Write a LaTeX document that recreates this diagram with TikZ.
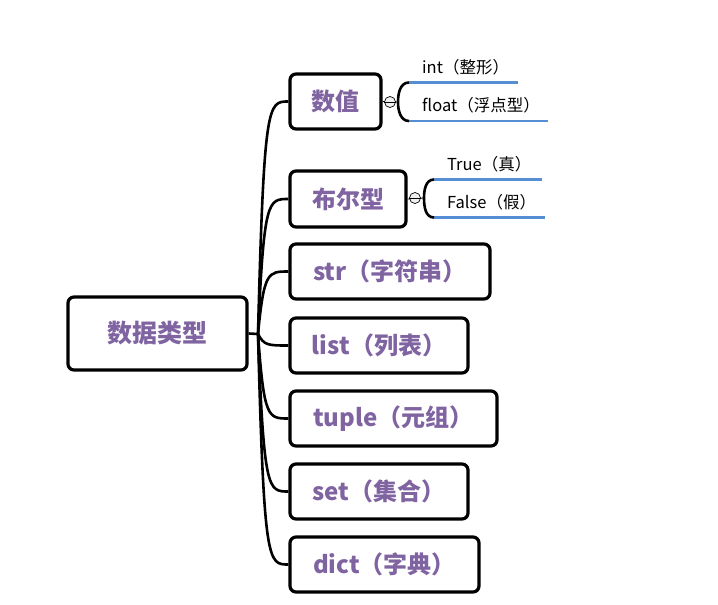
\documentclass[tikz,border=0pt]{standalone}
\usepackage{fontspec}
\newfontfamily\cjk{Noto Sans CJK SC}
\definecolor{txtpurple}{HTML}{8064A2}
\definecolor{lineblue}{HTML}{558ED5}
\begin{document}
\begin{tikzpicture}[x=1pt,y=-1pt,
  box/.style={draw=black,line width=3.2pt,rounded corners=6pt,fill=white,
    font=\cjk\bfseries\fontsize{24}{28}\selectfont,text=txtpurple,inner sep=0pt},
  conn/.style={line width=2.6pt,black},
  leaf/.style={font=\cjk\fontsize{16.5}{19}\selectfont,anchor=west,inner sep=0pt},
  bline/.style={line width=2.6pt,lineblue},
  knob/.style={circle,draw=black,line width=0.7pt,fill=gray!12,minimum size=11pt,inner sep=0pt}]
\useasboundingbox (0,0) rectangle (718,605);
% root
\node[box,minimum width=179pt,minimum height=73pt,font=\cjk\bfseries\fontsize{25}{29}\selectfont] (root) at (157.5,333.5) {数据类型};
% children
\node[box,minimum width=91pt,minimum height=55pt] (c1) at (335.5,101.5) {数值};
\node[box,minimum width=116pt,minimum height=56pt] (c2) at (348,199) {布尔型};
\node[box,minimum width=200pt,minimum height=55pt] (c3) at (390,271.5) {str（字符串）};
\node[box,minimum width=178pt,minimum height=55pt] (c4) at (379,345.5) {list（列表）};
\node[box,minimum width=207pt,minimum height=55pt] (c5) at (393.5,418.5) {tuple（元组）};
\node[box,minimum width=178pt,minimum height=55pt] (c6) at (379,491.5) {set（集合）};
\node[box,minimum width=189pt,minimum height=55pt] (c7) at (384.5,564.5) {dict（字典）};
% trunk
\coordinate (j) at (258,334);
\draw[conn] (root.east) -- (j);
\foreach \c/\y in {c1/101.5,c2/199,c3/271.5,c4/345.5,c5/418.5,c6/491.5,c7/564.5}{
  \draw[conn] (j) .. controls (264,\y) and (268,\y) .. (\c.west);
}
% 数值 subtopics
\coordinate (b1) at (398,102);
\coordinate (b1t) at (409,82.5);
\coordinate (b1b) at (409,121);
\coordinate (e1t) at (518,82.5);
\coordinate (e1b) at (548,121);
\draw[line width=0.8pt] (c1.east) -- (b1);
\node[knob] (k1) at (390,102) {};
\draw[line width=0.7pt] (k1.west) -- (k1.east);
\draw[bline] (b1t) -- (e1t);
\draw[bline] (b1b) -- (e1b);
\draw[conn] (b1t) to[out=180,in=90] (b1) to[out=-90,in=180] (b1b);
\node[leaf] (l1) at (422,67) {int（整形）};
\node[leaf] (l2) at (422,105) {float（浮点型）};
% 布尔型 subtopics
\coordinate (b2) at (424,198);
\coordinate (b2t) at (434,179.5);
\coordinate (b2b) at (434,217.5);
\coordinate (e2t) at (542,179.5);
\coordinate (e2b) at (545,217.5);
\draw[line width=0.8pt] (c2.east) -- (b2);
\node[knob] (k2) at (415,198) {};
\draw[line width=0.7pt] (k2.west) -- (k2.east);
\draw[bline] (b2t) -- (e2t);
\draw[bline] (b2b) -- (e2b);
\draw[conn] (b2t) to[out=180,in=90] (b2) to[out=-90,in=180] (b2b);
\node[leaf] (l3) at (447,164) {True（真）};
\node[leaf] (l4) at (447,202) {False（假）};
\end{tikzpicture}
\end{document}
